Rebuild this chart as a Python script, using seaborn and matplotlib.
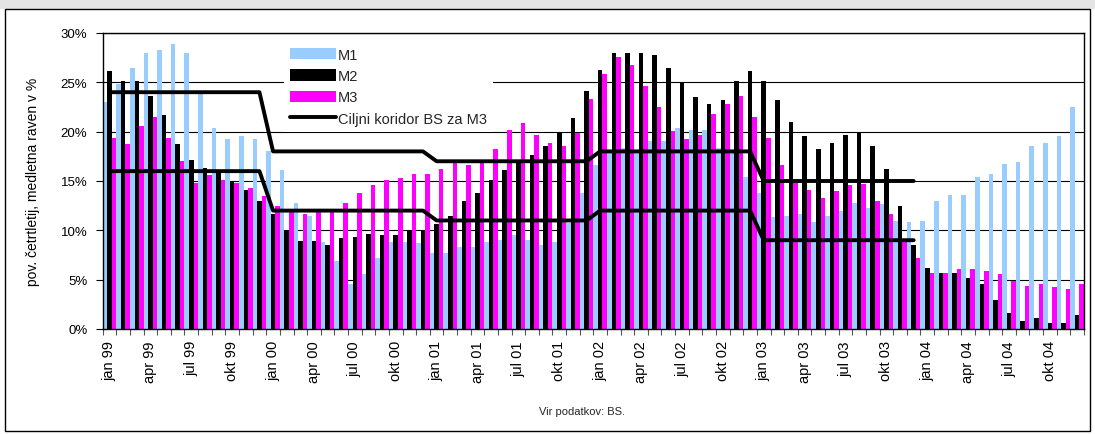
import numpy as np
import pandas as pd
import matplotlib
matplotlib.use("Agg")
import matplotlib.pyplot as plt
from matplotlib.patches import Rectangle, Patch
from matplotlib.lines import Line2D
from matplotlib.ticker import PercentFormatter, FixedLocator
import seaborn as sns

# ---------------- data ----------------
mesec_imena = ["jan", "feb", "mar", "apr", "maj", "jun",
               "jul", "avg", "sep", "okt", "nov", "dec"]
leta = ["99", "00", "01", "02", "03", "04"]
meseci = [f"{m} {l}" for l in leta for m in mesec_imena]

serije = ["M1", "M2", "M3"]

m1 = [23.0, 24.8, 26.5, 28.0, 28.3, 28.9, 28.0, 23.8, 20.4, 19.3, 19.6, 19.3,
      18.0, 16.1, 12.8, 11.5, 8.8, 6.9, 4.6, 5.6, 7.2, 8.8, 8.8, 8.7,
      7.7, 7.7, 8.3, 8.3, 8.8, 9.0, 9.5, 9.0, 8.5, 8.8, 10.7, 13.8,
      16.6, 18.0, 18.3, 18.0, 19.1, 19.1, 20.4, 20.2, 20.2, 18.3, 18.0, 15.4,
      13.8, 11.4, 11.5, 11.7, 10.8, 11.5, 12.0, 12.8, 12.3, 12.7, 10.9, 10.8,
      10.9, 13.0, 13.6, 13.6, 15.4, 15.7, 16.7, 16.9, 18.5, 18.9, 19.6, 22.5]

m2 = [26.1, 25.1, 25.1, 23.6, 21.7, 18.8, 17.1, 16.3, 15.9, 14.9, 14.1, 13.0,
      11.7, 10.0, 8.9, 8.9, 8.5, 9.2, 9.3, 9.6, 9.5, 9.5, 9.9, 10.0,
      10.6, 11.5, 13.0, 13.8, 15.1, 16.1, 16.9, 17.6, 18.5, 20.0, 21.4, 24.1,
      26.3, 28.0, 28.0, 28.0, 27.8, 26.5, 24.9, 23.5, 22.8, 23.2, 25.1, 26.1,
      25.1, 23.2, 21.0, 19.6, 18.2, 18.9, 19.7, 19.9, 18.5, 16.2, 12.5, 8.5,
      6.2, 5.7, 5.7, 5.2, 4.6, 2.9, 1.6, 0.8, 1.1, 0.6, 0.6, 1.4]

m3 = [19.4, 18.8, 20.6, 21.5, 19.4, 17.0, 14.8, 15.6, 15.1, 14.8, 14.3, 13.5,
      12.5, 11.9, 11.7, 11.9, 12.2, 12.8, 13.8, 14.6, 15.1, 15.3, 15.7, 15.7,
      16.2, 16.9, 16.6, 16.9, 18.2, 20.2, 20.9, 19.7, 18.9, 18.5, 19.9, 23.3,
      25.8, 27.6, 26.8, 24.6, 22.5, 20.1, 19.3, 19.7, 21.8, 22.8, 23.6, 21.5,
      19.4, 16.6, 15.1, 14.1, 13.3, 14.0, 14.6, 14.7, 13.0, 11.7, 8.8, 7.2,
      5.7, 5.7, 6.1, 6.1, 5.9, 5.6, 4.9, 4.4, 4.6, 4.3, 4.1, 4.6]

# target corridor for M3 (jan 99 - dec 03)
koridor_zgornja = [24, 24, 24, 24, 24, 24, 24, 24, 24, 24, 24, 24,
                   18, 18, 18, 18, 18, 18, 18, 18, 18, 18, 18, 18,
                   17, 17, 17, 17, 17, 17, 17, 17, 17, 17, 17, 17,
                   18, 18, 18, 18, 18, 18, 18, 18, 18, 18, 18, 18,
                   15, 15, 15, 15, 15, 15, 15, 15, 15, 15, 15, 15]
koridor_spodnja = [16, 16, 16, 16, 16, 16, 16, 16, 16, 16, 16, 16,
                   12, 12, 12, 12, 12, 12, 12, 12, 12, 12, 12, 12,
                   11, 11, 11, 11, 11, 11, 11, 11, 11, 11, 11, 11,
                   12, 12, 12, 12, 12, 12, 12, 12, 12, 12, 12, 12,
                   9, 9, 9, 9, 9, 9, 9, 9, 9, 9, 9, 9]

oznaka_koridor = "Ciljni koridor BS za M3"
ylabel = "pov. četrtletij, medletna raven v %"
vir = "Vir podatkov: BS."

barve = {"M1": "#99CCFF", "M2": "#000000", "M3": "#FF00FF"}

# ---------------- figure ----------------
sns.set_theme(style="white")
plt.rcParams["font.family"] = ["Liberation Sans", "DejaVu Sans"]

W, H = 1095, 435
fig = plt.figure(figsize=(W / 100, H / 100), dpi=100)

# title band + frame
fig.patches.append(Rectangle((0, 1 - 10 / H), 1, 10 / H, transform=fig.transFigure,
                             facecolor="#e4e4e4", edgecolor="none", zorder=0))
fig.patches.append(Rectangle((5 / W, 3 / H), (1090 - 5) / W, (432 - 10) / H,
                             transform=fig.transFigure, facecolor="none",
                             edgecolor="black", lw=1.0, zorder=5))

ax = fig.add_axes([102.7 / W, (H - 330) / H, (1084 - 102.7) / W, (330 - 34) / H])

df = pd.DataFrame({
    "mesec": meseci * 3,
    "serija": ["M1"] * len(meseci) + ["M2"] * len(meseci) + ["M3"] * len(meseci),
    "vrednost": m1 + m2 + m3,
})

sns.barplot(data=df, x="mesec", y="vrednost", hue="serija", order=meseci,
            hue_order=serije, palette=barve, width=1.0, saturation=1,
            errorbar=None, linewidth=0, legend=False, ax=ax, zorder=2)

idx = np.arange(len(koridor_zgornja))
for kor in (koridor_zgornja, koridor_spodnja):
    sns.lineplot(x=idx, y=kor, color="black", lw=2.8, ax=ax, legend=False,
                 sort=False, estimator=None, zorder=3)

# axes styling
ax.set_xlim(-0.5, len(meseci) - 0.5)
ax.set_ylim(0, 30)
ax.yaxis.set_major_locator(FixedLocator([0, 5, 10, 15, 20, 25, 30]))
ax.yaxis.set_major_formatter(PercentFormatter(xmax=100, decimals=0))
ax.grid(axis="y", color="black", lw=0.8)
ax.grid(axis="x", visible=False)
ax.set_axisbelow(True)
for s in ax.spines.values():
    s.set_color("black")
    s.set_linewidth(1.0)

poz = list(range(0, len(meseci), 3))
ax.set_xticks(poz)
ax.set_xticklabels([meseci[i] for i in poz], rotation=90, fontsize=10.5)
ax.set_xticks(np.arange(-0.5, len(meseci), 1), minor=True)
ax.tick_params(axis="x", which="major", length=0, pad=8, colors="black")
ax.tick_params(axis="x", which="minor", length=4, width=0.8, color="#555555",
               direction="out", bottom=True)
ax.tick_params(axis="y", which="major", length=5, width=0.8, direction="out",
               left=True, pad=6, labelsize=9.5, colors="black")
ax.set_xlabel("")
ax.set_ylabel(ylabel, fontsize=10, color="black")
ax.yaxis.set_label_coords((40 - 102.7) / (1084 - 102.7), 0.5)

handles = [Patch(facecolor=barve[s], edgecolor="none") for s in serije]
handles.append(Line2D([0], [0], color="black", lw=2.8))
leg = ax.legend(handles, serije + [oznaka_koridor], loc="upper left",
                bbox_to_anchor=(284 / W, 1 - 43 / H), bbox_transform=fig.transFigure,
                borderaxespad=0, frameon=True, fancybox=False, framealpha=1,
                facecolor="white", edgecolor="none", fontsize=10.5,
                handlelength=3.15, handleheight=0.8, handletextpad=0.15,
                labelspacing=0.5, borderpad=0.4)
leg.set_zorder(10)

fig.text(582 / W, 1 - 412 / H, vir, fontsize=8, ha="center", va="center")

fig.savefig("out.png", dpi=100)
